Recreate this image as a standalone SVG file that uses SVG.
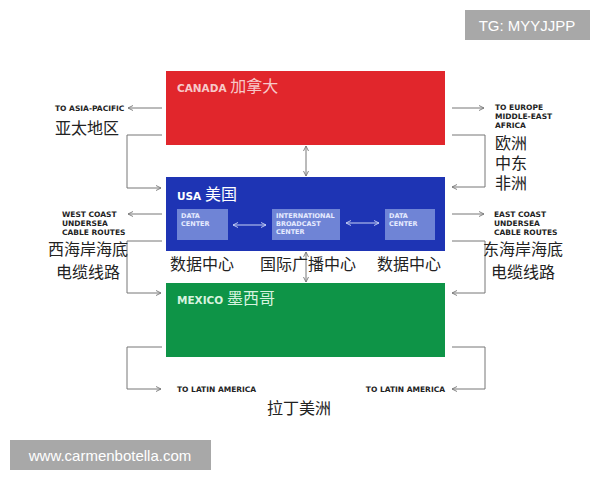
<svg xmlns="http://www.w3.org/2000/svg" width="600" height="480" viewBox="0 0 600 480">
<defs>
<marker id="ah" viewBox="0 0 6 6" refX="5.5" refY="3" markerWidth="6" markerHeight="6" orient="auto-start-reverse" markerUnits="userSpaceOnUse">
<path d="M0.5,0.5 L5.5,3 L0.5,5.5" fill="none" stroke="#777" stroke-width="0.9"/>
</marker>
<marker id="ahw" viewBox="0 0 6 6" refX="5.5" refY="3" markerWidth="6" markerHeight="6" orient="auto-start-reverse" markerUnits="userSpaceOnUse">
<path d="M0.5,0.5 L5.5,3 L0.5,5.5" fill="none" stroke="#c8d2f5" stroke-width="0.9"/>
</marker>
</defs>
<style>
.cap{font-family:"DejaVu Sans","Liberation Sans",sans-serif;font-weight:bold;font-size:7.5px;fill:#222}
.hd{font-family:"DejaVu Sans","Liberation Sans",sans-serif;font-weight:bold;font-size:10.5px}
.zh{font-family:"Noto Sans CJK SC",sans-serif;font-size:16px;fill:#222}
.zhb{font-family:"Noto Sans CJK SC",sans-serif;font-size:16px}
.in{font-family:"DejaVu Sans","Liberation Sans",sans-serif;font-weight:bold;font-size:6.5px;fill:#e6ebff}
.con{fill:none;stroke:#777;stroke-width:1}
.wm{font-family:"Liberation Sans",Arial,sans-serif;font-size:15px;fill:#fff}
</style>
<rect width="600" height="480" fill="#fff"/>

<g id="canada">
<rect x="166" y="71" width="279" height="74" fill="#e1262c"/>
<text x="177" y="92" class="hd" fill="#f7c9c9">CANADA <tspan class="zhb" font-weight="normal" font-size="16">加拿大</tspan></text>
</g>

<g id="usa">
<rect x="166" y="177" width="279" height="74" fill="#1e34b4"/>
<text x="177" y="200" class="hd" fill="#ffffff">USA <tspan class="zhb" font-weight="normal" font-size="16">美国</tspan></text>
<g id="dc1"><rect x="177" y="209" width="51" height="31" fill="#6f84d6"/>
<text class="in"><tspan x="181" y="218">DATA</tspan><tspan x="181" y="226">CENTER</tspan></text></g>
<g id="ibc"><rect x="272" y="209" width="68" height="31" fill="#6f84d6"/>
<text class="in"><tspan x="276" y="218">INTERNATIONAL</tspan><tspan x="276" y="226">BROADCAST</tspan><tspan x="276" y="234">CENTER</tspan></text></g>
<g id="dc2"><rect x="385" y="209" width="50" height="31" fill="#6f84d6"/>
<text class="in"><tspan x="389" y="218">DATA</tspan><tspan x="389" y="226">CENTER</tspan></text></g>
</g>

<g id="mexico">
<rect x="166" y="283" width="279" height="74" fill="#0e9447"/>
<text x="177" y="304" class="hd" fill="#d7f3df">MEXICO <tspan class="zhb" font-weight="normal" font-size="16">墨西哥</tspan></text>
</g>

<g id="connectors">
<line x1="306" y1="146" x2="306" y2="176" class="con" marker-start="url(#ah)" marker-end="url(#ah)"/>
<line x1="306" y1="252" x2="306" y2="282" class="con" marker-start="url(#ah)" marker-end="url(#ah)"/>
<line x1="233" y1="225" x2="266" y2="225" fill="none" stroke="#c8d2f5" stroke-width="1" marker-start="url(#ahw)" marker-end="url(#ahw)"/>
<line x1="346" y1="223" x2="379" y2="223" fill="none" stroke="#c8d2f5" stroke-width="1" marker-start="url(#ahw)" marker-end="url(#ahw)"/>
<line x1="162" y1="108" x2="128" y2="108" class="con" marker-end="url(#ah)"/>
<polyline points="162,135 127,135 127,188 161,188" class="con" marker-end="url(#ah)"/>
<line x1="162" y1="214" x2="128" y2="214" class="con" marker-end="url(#ah)"/>
<polyline points="162,241 127,241 127,293 161,293" class="con" marker-end="url(#ah)"/>
<polyline points="162,347 127,347 127,389 161,389" class="con" marker-end="url(#ah)"/>
<line x1="452" y1="108" x2="484" y2="108" class="con" marker-end="url(#ah)"/>
<polyline points="452,135 485,135 485,187 452,187" class="con" marker-end="url(#ah)"/>
<line x1="452" y1="214" x2="484" y2="214" class="con" marker-end="url(#ah)"/>
<polyline points="452,241 485,241 485,293 452,293" class="con" marker-end="url(#ah)"/>
<polyline points="452,347 485,347 485,389 452,389" class="con" marker-end="url(#ah)"/>
</g>

<g id="labels">
<text x="55" y="111" class="cap">TO ASIA-PACIFIC</text>
<text x="55" y="134" class="zh" font-size="17">亚太地区</text>
<text class="cap"><tspan x="495" y="110">TO EUROPE</tspan><tspan x="495" y="119">MIDDLE-EAST</tspan><tspan x="495" y="128">AFRICA</tspan></text>
<text class="zh" font-size="15.5"><tspan x="495" y="149">欧洲</tspan><tspan x="495" y="169">中东</tspan><tspan x="495" y="189">非洲</tspan></text>
<text class="cap"><tspan x="62" y="217">WEST COAST</tspan><tspan x="62" y="226">UNDERSEA</tspan><tspan x="62" y="235">CABLE ROUTES</tspan></text>
<text class="zh" text-anchor="middle"><tspan x="88" y="255">西海岸海底</tspan><tspan x="88" y="278">电缆线路</tspan></text>
<text class="cap"><tspan x="494" y="217">EAST COAST</tspan><tspan x="494" y="226">UNDERSEA</tspan><tspan x="494" y="235">CABLE ROUTES</tspan></text>
<text class="zh" text-anchor="middle"><tspan x="523" y="255">东海岸海底</tspan><tspan x="523" y="278">电缆线路</tspan></text>
<text x="170" y="270" class="zh">数据中心</text>
<text x="260" y="270" class="zh">国际广播中心</text>
<text x="377" y="270" class="zh">数据中心</text>
<text x="177" y="392" class="cap">TO LATIN AMERICA</text>
<text x="445" y="392" class="cap" text-anchor="end">TO LATIN AMERICA</text>
<text x="267" y="414" class="zh" font-size="17">拉丁美洲</text>
</g>

<g id="watermarks">
<rect x="465" y="10" width="125" height="30" fill="#a8a8a8"/>
<text x="527" y="31" class="wm" text-anchor="middle">TG: MYYJJPP</text>
<rect x="10" y="440" width="201" height="30" fill="#a8a8a8"/>
<text x="110" y="461" class="wm" text-anchor="middle">www.carmenbotella.com</text>
</g>
</svg>
